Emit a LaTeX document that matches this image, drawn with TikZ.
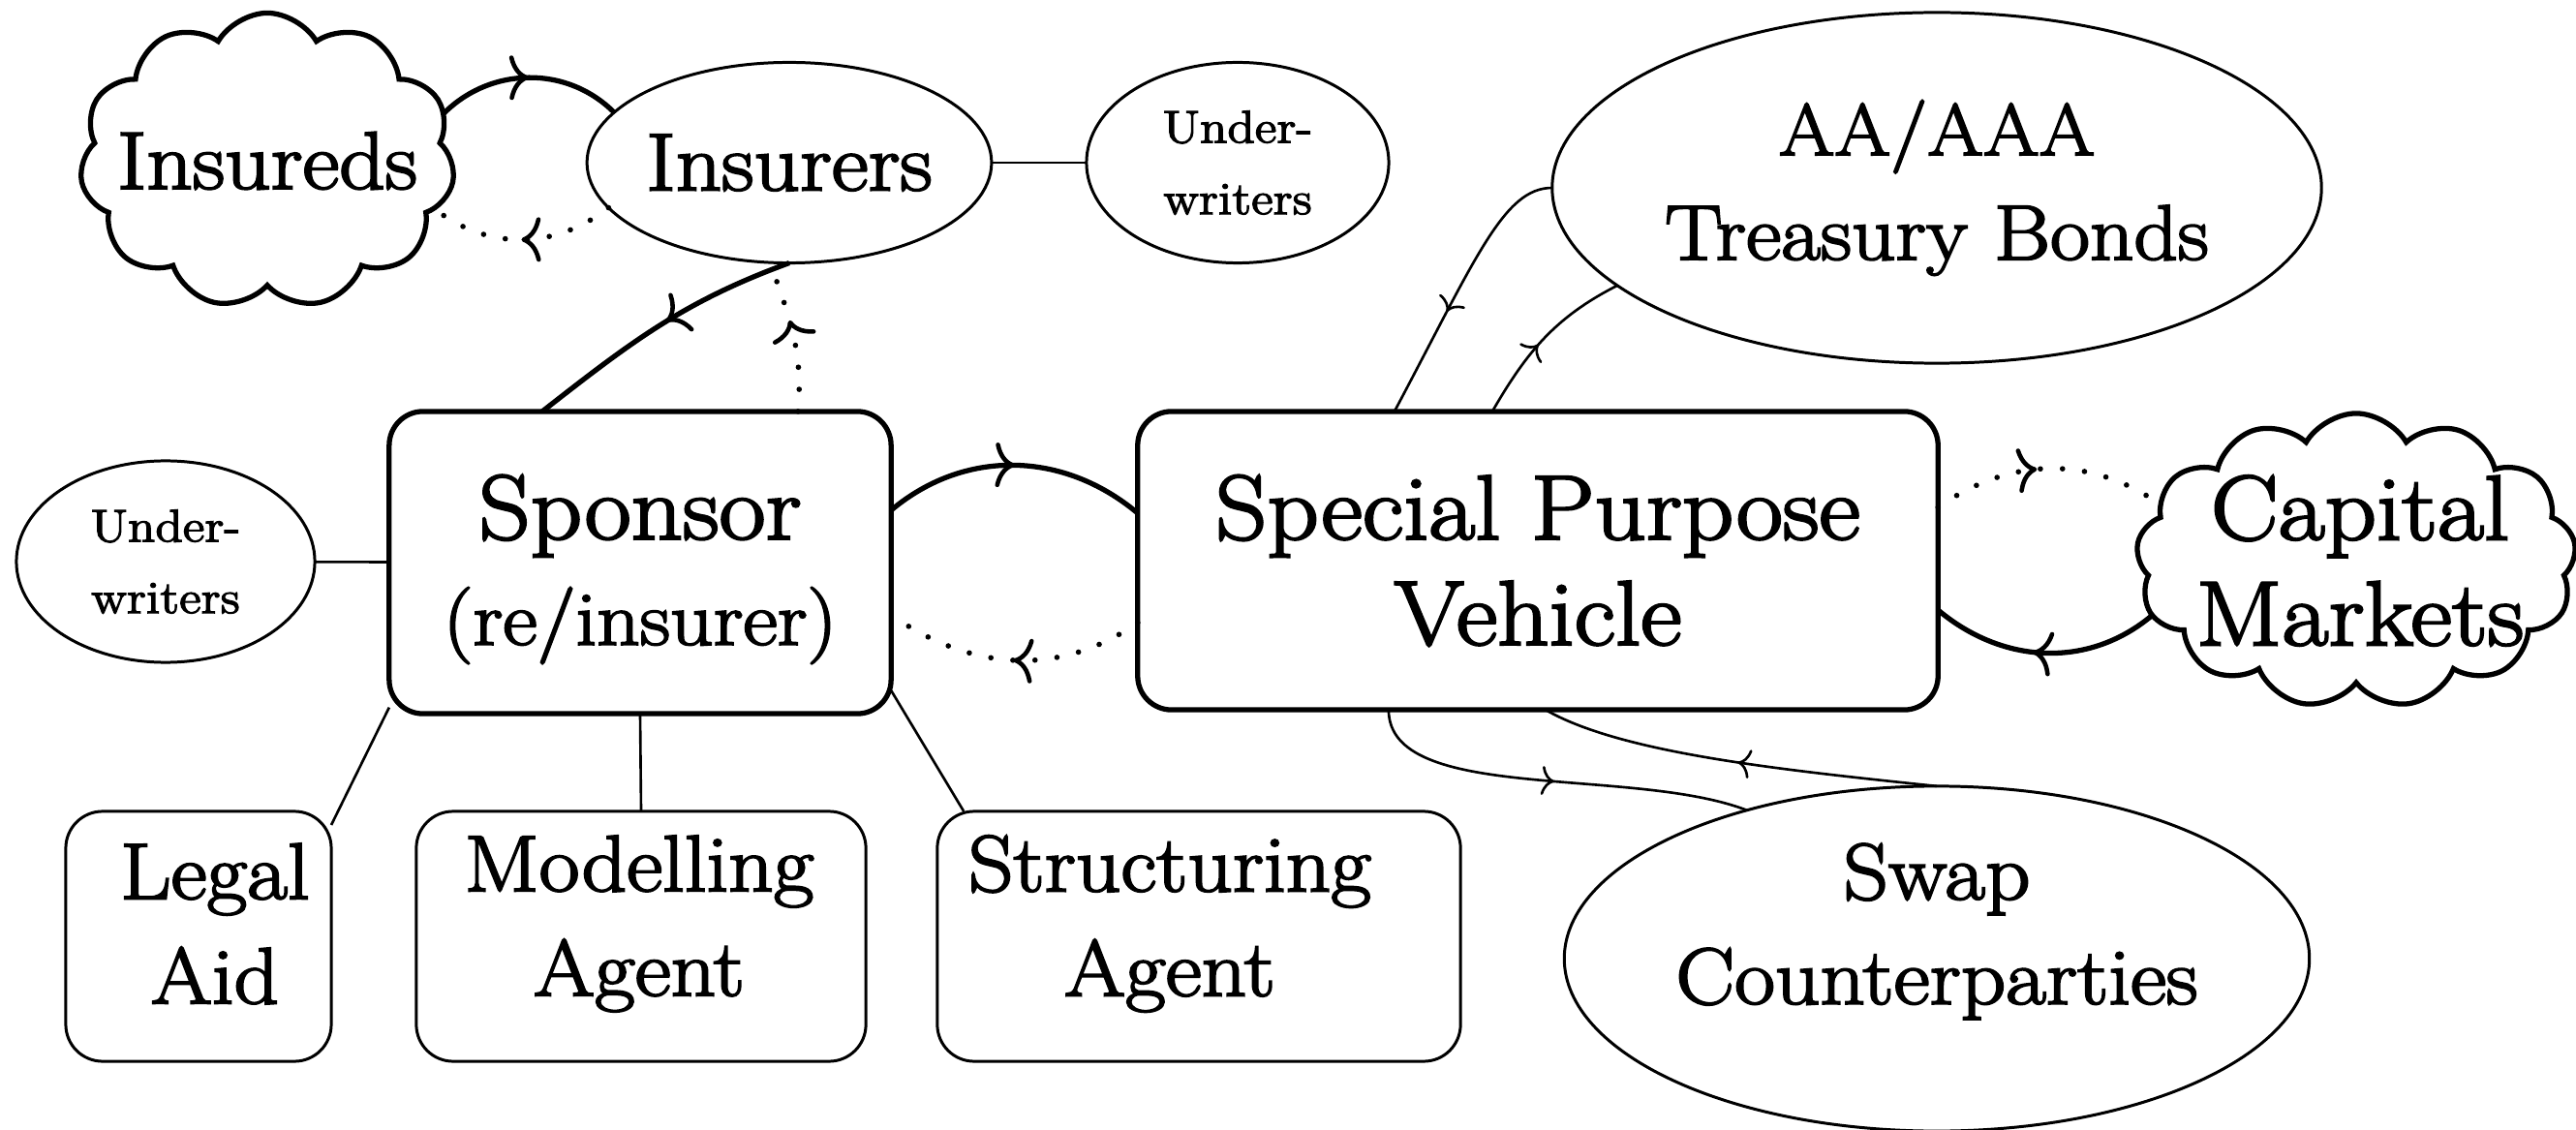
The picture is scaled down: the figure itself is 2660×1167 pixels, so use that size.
\documentclass[tikz,border=0pt]{standalone}
\usepackage{fontspec}
\setmainfont{Latin Modern Roman}[FakeBold=2.5,FakeStretch=1.1]
\usetikzlibrary{shapes.geometric,shapes.symbols,arrows.meta,decorations.markings,calc}
\begin{document}
\begin{tikzpicture}[x=0.01cm,y=0.01cm,
  every node/.style={inner sep=0pt,outer sep=0pt},
  bigtext/.style={font=\fontsize{27}{31}\selectfont,align=center},
  midtext/.style={font=\fontsize{23.5}{30.7}\selectfont,align=center},
  smalltext/.style={font=\fontsize{13.5}{21}\selectfont,align=center},
  mainbox/.style={draw,rectangle,line width=1.5pt,rounded corners=0.35cm},
  lowbox/.style={draw,rectangle,line width=0.85pt,rounded corners=0.38cm},
  oval/.style={draw,ellipse,line width=0.85pt},
  puffy/.style={draw,cloud,cloud ignores aspect,cloud puff arc=120,line width=1.5pt},
  flow/.style={line width=1.5pt},
  dotflow/.style={line width=1.6pt,line cap=round,dash pattern=on 0pt off 6.5pt},
  thinflow/.style={line width=0.75pt},
  link/.style={line width=0.75pt},
  midtip/.style={postaction={decorate,decoration={markings,
      mark=at position #1 with {\arrow[line width=1.3pt]{To[length=0.2cm,width=0.46cm]}}}}},
  midtipthin/.style={postaction={decorate,decoration={markings,
      mark=at position #1 with {\arrow[line width=0.75pt]{To[length=0.13cm,width=0.30cm]}}}}}
]
\useasboundingbox (0,0) rectangle (2660,-1167);

% parties
\node[puffy,cloud puffs=11,minimum width=3.87cm,minimum height=3.05cm] (insureds) at (276,-166) {};
\node[font=\fontsize{24}{30}\selectfont] (insuredstext) at (276,-166) {Insureds};
\node[oval,minimum width=4.13cm,minimum height=2.07cm,
      font=\fontsize{24}{30}\selectfont] (insurers) at (815,-168) {Insurers};
\node[oval,smalltext,minimum width=3.12cm,minimum height=2.07cm] (uwtop) at (1278,-168) {Under-\\writers};
\node[oval,smalltext,minimum width=3.08cm,minimum height=2.08cm] (uwleft) at (171,-580) {Under-\\writers};
\node[oval,minimum width=7.74cm,minimum height=3.62cm,
      font=\fontsize{23}{30.7}\selectfont,align=center] (bonds) at (2000,-194) {{\fontsize{21.5}{30.7}\selectfont AA/AAA}\\Treasury Bonds};

\node[mainbox,minimum width=5.18cm,minimum height=3.12cm] (sponsor) at (661,-581) {};
\node[bigtext] (sponsortext) at (661,-588) {Sponsor\\{\fontsize{22.5}{31}\selectfont(re/insurer)}};
\node[mainbox,bigtext,minimum width=8.26cm,minimum height=3.08cm] (spv) at (1588,-579) {Special Purpose\\Vehicle};
\node[puffy,cloud puffs=13,minimum width=4.54cm,minimum height=3.04cm] (capital) at (2433,-579) {};
\node[bigtext] (capitaltext) at (2437,-579) {Capital\\Markets};

% service providers
\node[lowbox,minimum width=2.74cm,minimum height=2.58cm] (legal) at (205,-967) {};
\node[midtext] (legaltext) at (222,-954) {Legal\\Aid};
\node[lowbox,minimum width=4.64cm,minimum height=2.58cm] (modelling) at (662,-967) {};
\node[midtext] (modellingtext) at (660,-954) {Modelling\\Agent};
\node[lowbox,minimum width=5.40cm,minimum height=2.58cm] (structuring) at (1238,-967) {};
\node[midtext] (structuringtext) at (1208,-954) {Structuring\\Agent};
\node[oval,minimum width=7.69cm,minimum height=3.56cm] (swap) at (2000,-990) {};
\node[midtext] (swaptext) at (2000,-962) {Swap\\Counterparties};

% plain links
\draw[link] (insurers) -- (uwtop);
\draw[link] (uwleft) -- (sponsor);
\draw[link] (sponsor.210) -- (legal.40);
\draw[link] (sponsor.south) -- (modelling.north);
\draw[link] (sponsor.-27) -- (structuring.152);

% premium / payment flows
\draw[flow,midtip=0.5] (insureds.15) to[out=45,in=135] (insurers.164);
\draw[flow,midtip=0.47] (insurers.south) to[out=200,in=38] ([xshift=-1.01cm]sponsor.north);
\draw[flow,midtip=0.5] ([yshift=0.54cm]sponsor.east) to[out=40,in=140] ([yshift=0.49cm]spv.west);
\draw[flow,midtip=0.55] (capital.195) to[out=220,in=320] ([yshift=-0.51cm]spv.east);

% cover / claim flows
\draw[dotflow,midtip=0.5] (insurers.194) to[out=218,in=322] (insureds.344);
\draw[dotflow,midtip=0.6] ([xshift=1.63cm]sponsor.north) to[out=85,in=-70] (insurers.-101);
\draw[dotflow,midtip=0.5] ([yshift=-0.64cm]spv.west) to[out=215,in=325] ([yshift=-0.54cm]sponsor.east);
\draw[dotflow,midtip=0.45] ([yshift=0.55cm]spv.east) to[out=35,in=145] (capital.164);

% collateral and swap flows
\draw[thinflow,midtipthin=0.6] (bonds.west) to[out=180,in=62,out distance=0.5cm,in distance=1.8cm] ([xshift=-1.48cm]spv.north);
\draw[thinflow,midtipthin=0.45] ([xshift=-0.47cm]spv.north) to[out=60,in=207] (bonds.197.6);
\draw[thinflow,midtipthin=0.5] ([xshift=-1.54cm]spv.south) to[out=-90,in=159,out distance=0.97cm,in distance=1.28cm] (swap.142);
\draw[thinflow,midtipthin=0.5] (swap.north) to[out=174,in=-30,out distance=1.6cm,in distance=0.9cm] ([xshift=0.08cm]spv.south);
\end{tikzpicture}
\end{document}
